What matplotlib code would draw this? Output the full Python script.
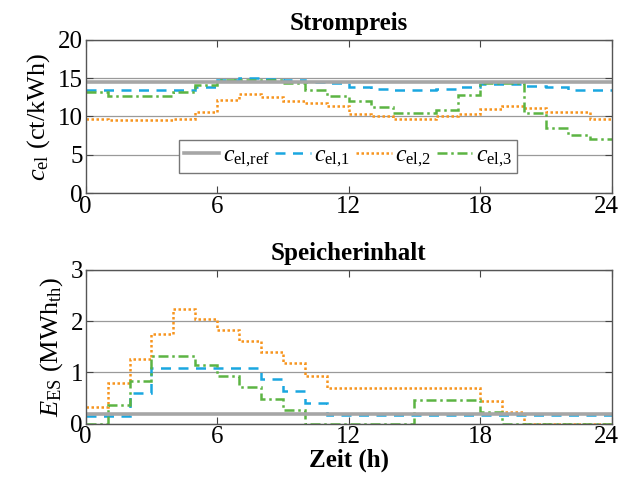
import matplotlib
matplotlib.use("Agg")
import matplotlib.pyplot as plt
import matplotlib.transforms as mtransforms
import numpy as np

plt.rcParams["font.family"] = ["Liberation Serif", "DejaVu Serif"]
plt.rcParams["mathtext.fontset"] = "custom"
plt.rcParams["mathtext.rm"] = "Liberation Serif"
plt.rcParams["mathtext.it"] = "Liberation Serif:italic"
plt.rcParams["mathtext.bf"] = "Liberation Serif:bold"

# hourly data (value holds from hour h to h+1)
hours = np.arange(25)
c_ref = 14.5
c_el1 = [13.5, 13.5, 13.5, 13.5, 13.5, 13.9, 14.7, 15.0, 14.9, 14.7, 14.5, 14.3,
         13.8, 13.6, 13.4, 13.4, 13.6, 13.8, 14.2, 14.2, 14.0, 13.8, 13.4, 13.4]
c_el2 = [9.7, 9.5, 9.5, 9.5, 9.6, 10.6, 12.1, 12.9, 12.5, 12.0, 11.7, 11.3,
         10.3, 10.0, 9.7, 9.7, 10.0, 10.3, 10.9, 11.4, 11.1, 10.6, 10.6, 9.7]
c_el3 = [13.2, 12.65, 12.65, 12.65, 13.2, 14.1, 14.7, 14.8, 14.8, 14.3, 13.4, 12.65,
         12.0, 11.2, 10.5, 10.5, 10.8, 12.8, 14.3, 14.3, 10.4, 8.5, 7.6, 7.1]

E_ref = 0.18
E_1 = [0.14, 0.14, 0.60, 1.08, 1.08, 1.08, 1.08, 1.08, 0.87, 0.64, 0.40, 0.16,
       0.16, 0.16, 0.16, 0.16, 0.16, 0.16, 0.16, 0.16, 0.16, 0.16, 0.16, 0.16]
E_2 = [0.32, 0.79, 1.26, 1.75, 2.23, 2.04, 1.83, 1.61, 1.39, 1.18, 0.93, 0.69,
       0.69, 0.69, 0.69, 0.69, 0.69, 0.69, 0.44, 0.23, 0.0, 0.0, 0.0, 0.0]
E_3 = [0.0, 0.36, 0.84, 1.32, 1.32, 1.14, 0.92, 0.71, 0.49, 0.27, 0.0, 0.0,
       0.0, 0.0, 0.0, 0.46, 0.46, 0.46, 0.23, 0.0, 0.0, 0.0, 0.0, 0.0]

x_ticks = [0, 6, 12, 18, 24]
c_gray = "#a6a6a6"
c_blue = "#1aa7e0"
c_orange = "#f7941d"
c_green = "#5cb443"

fig = plt.figure(figsize=(6.22, 4.79), dpi=100)
ax1 = fig.add_axes([0.1378, 0.597, 0.8456, 0.320])
ax2 = fig.add_axes([0.1378, 0.1155, 0.8456, 0.3215])


def style_axes(ax, yticks):
    ax.set_xlim(0, 24)
    ax.set_xticks(x_ticks)
    ax.set_yticks(yticks)
    ax.set_ylim(yticks[0], yticks[-1])
    ax.grid(axis="y", color="#9a9a9a", lw=0.9)
    ax.set_axisbelow(True)
    ax.tick_params(direction="in", top=True, right=True, labelsize=18,
                   length=5, color="#444444", pad=2)
    for s in ax.spines.values():
        s.set_color("#555555")
        s.set_linewidth(1.0)
    # keep the last x label inside the figure, like the original
    last = ax.get_xticklabels()[-1]
    shift = mtransforms.ScaledTranslation(-5 / 100, 0, fig.dpi_scale_trans)
    last.set_transform(last.get_transform() + shift)


lw = 1.8
ax1.axhline(c_ref, color=c_gray, lw=2.6, label=r"$c_{\mathrm{el{,}ref}}$")
ax1.stairs(c_el1, hours, baseline=None, color=c_blue, lw=lw, ls=(0, (4, 3)),
           label=r"$c_{\mathrm{el{,}1}}$")
ax1.stairs(c_el2, hours, baseline=None, color=c_orange, lw=lw, ls=(0, (1, 1)),
           label=r"$c_{\mathrm{el{,}2}}$")
ax1.stairs(c_el3, hours, baseline=None, color=c_green, lw=lw, ls=(0, (4, 1.5, 1, 1.5)),
           label=r"$c_{\mathrm{el{,}3}}$")
style_axes(ax1, [0, 5, 10, 15, 20])
ax1.set_title("Strompreis", fontsize=18, fontweight="bold", pad=7)
ax1.set_ylabel(r"$c_{\mathrm{el}}$ (ct/kWh)", fontsize=19, labelpad=4)
leg = ax1.legend(loc="center", bbox_to_anchor=(0.4985, 0.238), ncol=4, fontsize=17,
                 handlelength=1.5, handletextpad=0.15, columnspacing=0.25,
                 borderpad=0.2, fancybox=False, framealpha=1,
                 edgecolor="#777777")
leg.get_frame().set_linewidth(1.0)

ax2.axhline(E_ref, color=c_gray, lw=2.6)
ax2.stairs(E_1, hours, baseline=None, color=c_blue, lw=lw, ls=(0, (4, 3)))
ax2.stairs(E_2, hours, baseline=None, color=c_orange, lw=lw, ls=(0, (1, 1)))
ax2.stairs(E_3, hours, baseline=None, color=c_green, lw=lw, ls=(0, (4, 1.5, 1, 1.5)))
style_axes(ax2, [0, 1, 2, 3])
ax2.set_title("Speicherinhalt", fontsize=18, fontweight="bold", pad=7)
ax2.set_ylabel(r"$E_{\mathrm{ES}}$ (MWh$_{\mathrm{th}}$)", fontsize=19, labelpad=4)
ax2.set_xlabel("Zeit (h)", fontsize=18, fontweight="bold", labelpad=0)

fig.savefig("out.png", dpi=100)
